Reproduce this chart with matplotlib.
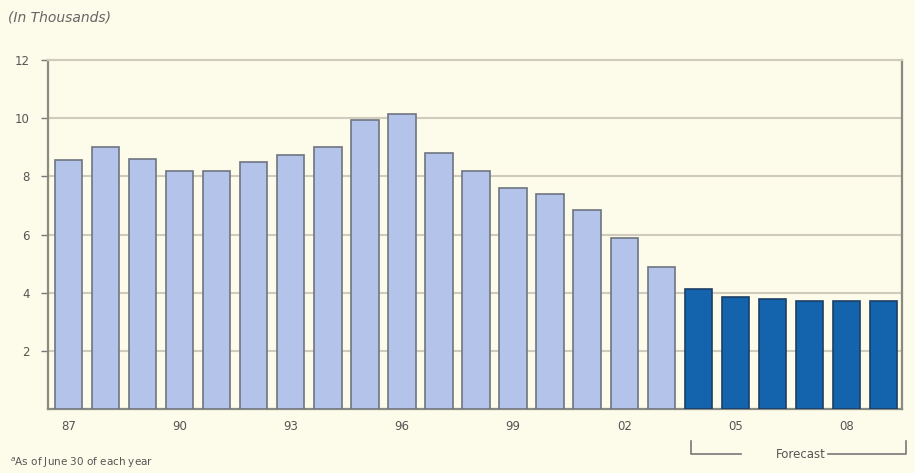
import numpy as np
import matplotlib.pyplot as plt

# data (thousands, as of June 30)
years = list(range(1987, 2010))
values = [8.55, 9.0, 8.6, 8.18, 8.18, 8.48, 8.73, 9.0, 9.95, 10.13,
          8.8, 8.18, 7.6, 7.4, 6.84, 5.87, 4.9,
          4.12, 3.85, 3.78, 3.72, 3.72, 3.72]
forecast_start = 2004
tick_years = [1987, 1990, 1993, 1996, 1999, 2002, 2005, 2008]
tick_labels = ['87', '90', '93', '96', '99', '02', '05', '08']

bg = '#fdfbe9'
light = '#b3c3e9'
dark = '#1463ad'

fig = plt.figure(figsize=(9.15, 4.73), dpi=100, facecolor=bg)
ax = fig.add_axes([0.0525, 0.1353, 0.9335, 0.7377])
ax.set_facecolor(bg)

colors = [dark if y >= forecast_start else light for y in years]
edges = ['#1d3f66' if y >= forecast_start else '#6f7580' for y in years]
ax.bar(years, values, width=0.74, color=colors, edgecolor=edges, linewidth=1.2, zorder=3)

ax.set_xlim(1986.45, 2009.5)
ax.set_ylim(0, 12)
ax.set_yticks([2, 4, 6, 8, 10, 12])
ax.set_yticklabels(['2', '4', '6', '8', '10', '12'])
ax.set_xticks(tick_years)
ax.set_xticklabels(tick_labels)
ax.grid(axis='y', color='#cfccbd', linewidth=1.5, zorder=0)
ax.tick_params(axis='y', length=5, width=1, color='#777777', labelsize=8.5,
               labelcolor='#555555', pad=8)
ax.tick_params(axis='x', length=0, labelsize=8.5, labelcolor='#555555', pad=8)

for s in ['left', 'bottom', 'right']:
    ax.spines[s].set_color('#8a8a84')
    ax.spines[s].set_linewidth(1.6)
ax.spines['top'].set_color('#cfccbd')
ax.spines['top'].set_linewidth(1.5)

# title and footnote
fig.text(0.009, 0.962, '(In Thousands)', fontsize=10, style='italic',
         color='#666666', va='center')
fig.text(0.011, 0.022, '$^{a}$As of June 30 of each year', fontsize=7.5,
         color='#555555', va='center')

# forecast bracket
bx0, bx1, by, btop = 0.755, 0.99, 0.04, 0.068
fig.add_artist(plt.Line2D([bx0, bx0, 0.81], [btop, by, by], color='#777777', lw=1.2))
fig.add_artist(plt.Line2D([0.905, bx1, bx1], [by, by, btop], color='#777777', lw=1.2))
fig.text((bx0 + bx1) / 2 + 0.003, by, 'Forecast', fontsize=8.5, color='#555555',
         ha='center', va='center')

plt.savefig('out.png', dpi=100, facecolor=bg)
